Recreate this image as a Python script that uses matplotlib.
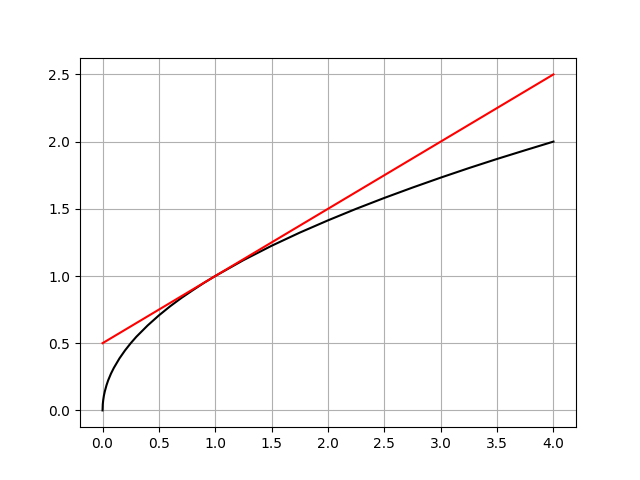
import matplotlib
matplotlib.use('Agg')
import matplotlib.pyplot as plt

# curva preta
x_curve = [0.0, 0.002, 0.006, 0.012, 0.02, 0.035, 0.05, 0.075, 0.1, 0.15, 0.2, 0.25,
           0.3, 0.4, 0.5, 0.6, 0.7, 0.8, 0.9, 1.0, 1.25, 1.5, 1.75, 2.0, 2.25,
           2.5, 2.75, 3.0, 3.25, 3.5, 3.75, 4.0]
y_curve = [0.0, 0.045, 0.077, 0.11, 0.141, 0.187, 0.224, 0.274, 0.316, 0.387, 0.447, 0.5,
           0.548, 0.632, 0.707, 0.775, 0.837, 0.894, 0.949, 1.0, 1.118, 1.225, 1.323, 1.414, 1.5,
           1.581, 1.658, 1.732, 1.803, 1.871, 1.936, 2.0]

# reta vermelha
x_line = [0.0, 4.0]
y_line = [0.5, 2.5]

plt.figure(figsize=(6.4, 4.8), dpi=100)
plt.plot(x_curve, y_curve, color='black')
plt.plot(x_line, y_line, color='red')
plt.grid(True)
plt.savefig('out.png')
